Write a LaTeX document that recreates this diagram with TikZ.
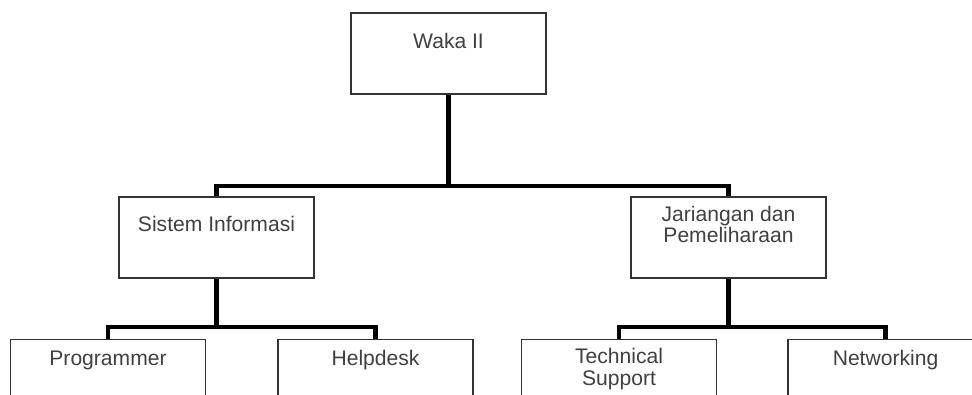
\documentclass[tikz,border=0pt]{standalone}
\usepackage{fontspec}
\setmainfont{Liberation Sans}
\usepackage{tikz}
\tikzstyle{box}=[draw=black!80,line width=.8pt,minimum width=3.9cm,minimum height=1.62cm,inner sep=0pt]
\tikzstyle{link}=[line width=2.6pt]
\tikzstyle{txt}=[text=black!75,align=center,inner sep=0pt,anchor=base]
\tikzstyle{every node}=[font=\fontsize{12}{12}\selectfont]

\begin{document}
\begin{tikzpicture}
    \useasboundingbox (0,0) rectangle (19.44,7.88);
    \clip (0,0) rectangle (19.44,7.88);
    \node[box] (waka) at (8.97,6.81) {};
    \node[box] (si) at (4.33,3.13) {};
    \node[box] (jp) at (14.57,3.13) {};
    \node[box,anchor=north] (prog) at (2.16,1.10) {};
    \node[box,anchor=north] (help) at (7.51,1.10) {};
    \node[box,anchor=north] (tech) at (12.38,1.10) {};
    \node[box,anchor=north] (net) at (17.71,1.10) {};
    \node[txt] (waka-t) at ([yshift=-.72cm]waka.north) {Waka II};
    \node[txt] (si-t) at ([yshift=-.71cm]si.north) {Sistem Informasi};
    \node[txt] (jp-t) at ([yshift=-.92cm]jp.north) {Jariangan dan\\Pemeliharaan};
    \node[txt] (prog-t) at ([yshift=-.52cm]prog.north) {Programmer};
    \node[txt] (help-t) at ([yshift=-.52cm]help.north) {Helpdesk};
    \node[txt] (tech-t) at ([yshift=-.92cm]tech.north) {Technical\\Support};
    \node[txt] (net-t) at ([yshift=-.52cm]net.north) {Networking};
    \coordinate (bus1) at (0,4.16);
    \coordinate (bus2) at (0,1.34);
    \draw[link] (waka.south) -- (waka.south |- bus1);
    \draw[link] (si.north) |- (bus1 -| jp.north) -- (jp.north);
    \draw[link] (si.south) -- (si.south |- bus2);
    \draw[link] (prog.north) |- (bus2 -| help.north) -- (help.north);
    \draw[link] (jp.south) -- (jp.south |- bus2);
    \draw[link] (tech.north) |- (bus2 -| net.north) -- (net.north);
\end{tikzpicture}
\end{document}
